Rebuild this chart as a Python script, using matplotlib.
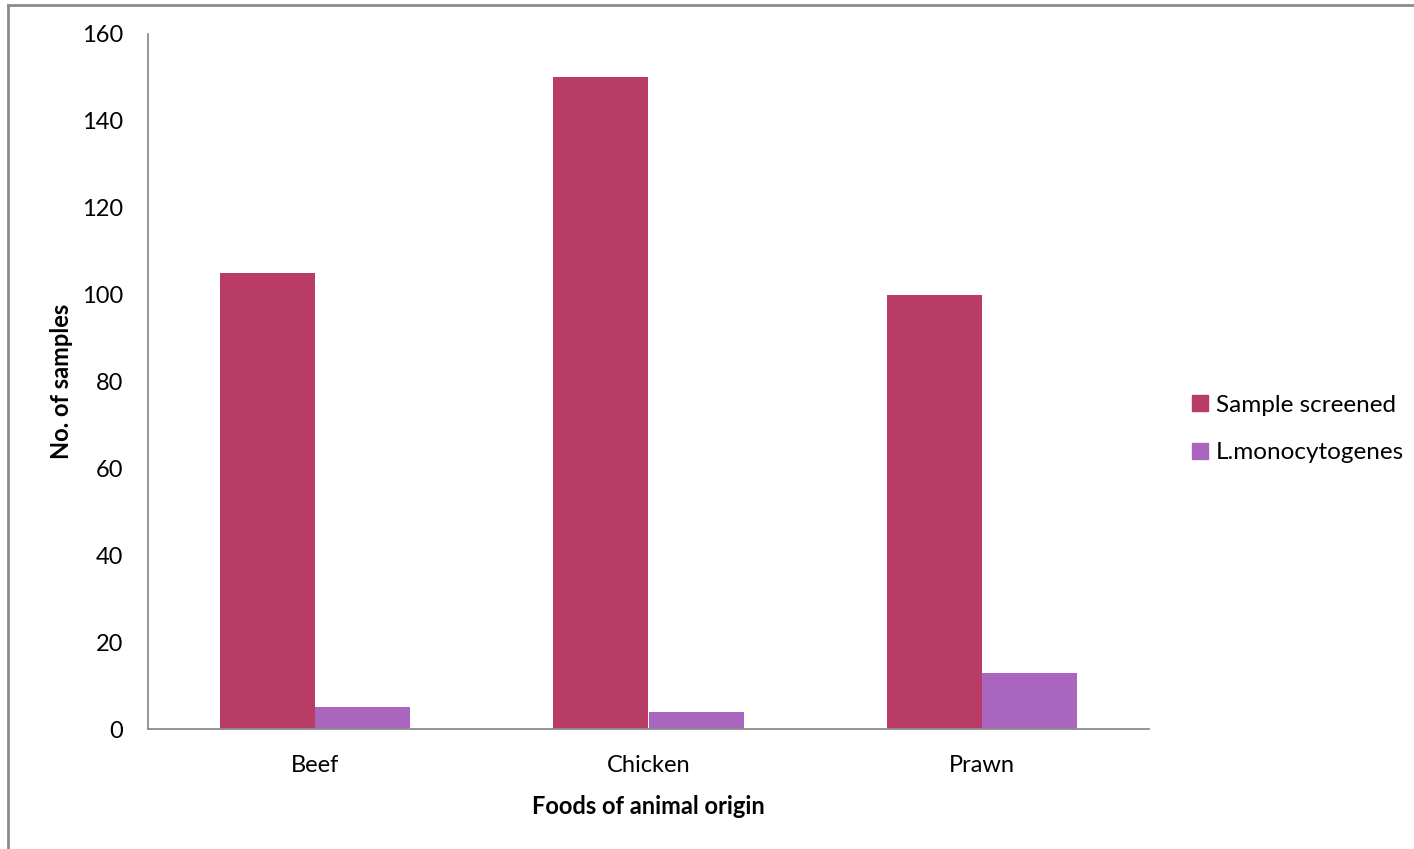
import matplotlib
matplotlib.use("Agg")
import matplotlib.pyplot as plt
from matplotlib.lines import Line2D
from matplotlib.patches import Patch
import numpy as np

categories = ["Beef", "Chicken", "Prawn"]
sample_screened = [105, 150, 100]
l_mono = [5, 4, 13]
series_names = ["Sample screened", "L.monocytogenes"]
colors = ["#B83C65", "#AA66BE"]

plt.rcParams['font.family'] = ['Lato', 'DejaVu Sans']

fig = plt.figure(figsize=(14.14, 8.49), dpi=100)
ax = fig.add_axes([148/1414, 1 - 729/849, (1149-148)/1414, (729-34)/849])

x = np.arange(len(categories))
w = 1/3.5
ax.bar(x - w/2, sample_screened, width=w, color=colors[0], label=series_names[0])
ax.bar(x + w/2, l_mono, width=w, color=colors[1], label=series_names[1])

ax.set_xlim(-0.5, 2.5)
ax.set_ylim(0, 160)
ax.set_yticks(range(0, 161, 20))
ax.set_xticks(x)
ax.set_xticklabels(categories)
ax.tick_params(axis='both', length=0, labelsize=17, colors='black')
ax.tick_params(axis='y', pad=18)
ax.tick_params(axis='x', pad=18.5)
for s in ['top', 'right']:
    ax.spines[s].set_visible(False)
for s in ['left', 'bottom']:
    ax.spines[s].set_color('#8C8C8C')
    ax.spines[s].set_linewidth(1.3)

ax.set_xlabel("Foods of animal origin", fontsize=17, fontweight='bold', labelpad=14)
ax.set_ylabel("No. of samples", fontsize=17, fontweight='bold', labelpad=6)

handles = [Patch(color=colors[0]), Patch(color=colors[1])]
fig.legend(handles, series_names, loc='center left', bbox_to_anchor=(1182/1414, 1 - 429/849),
           frameon=False, fontsize=17.5, handlelength=0.65, handleheight=0.65,
           handletextpad=0.35, labelspacing=1.1, borderaxespad=0)

# figure border (top and left)
fig.add_artist(Line2D([8/1414, 8/1414], [0, 1 - 5/849], transform=fig.transFigure, color='#8C8C8C', lw=2))
fig.add_artist(Line2D([8/1414, 1], [1 - 5/849, 1 - 5/849], transform=fig.transFigure, color='#8C8C8C', lw=2))

fig.savefig("out.png", dpi=100)
